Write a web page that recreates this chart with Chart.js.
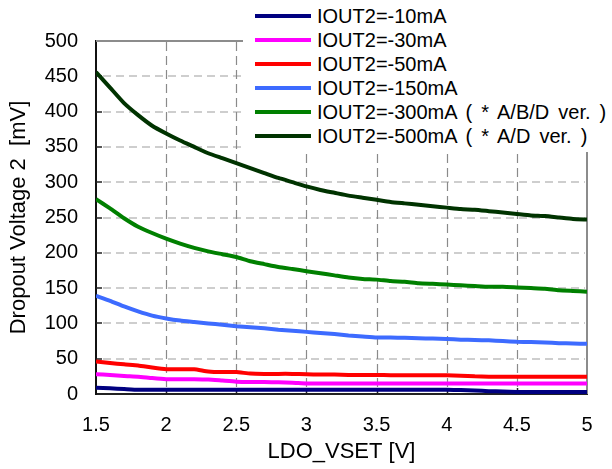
<!DOCTYPE html>
<html>
<head>
<meta charset="utf-8">
<script src="https://cdn.jsdelivr.net/npm/chart.js@4.4.1/dist/chart.umd.min.js"></script>
<style>
    html, body { margin: 0; padding: 0; background: #fff; }
    #wrap { position: relative; width: 612px; height: 469px; }
    #legend {
        position: absolute; left: 243px; top: 0; width: 369px; height: 152px;
        background: #fff; font-family: "Liberation Sans", Arial, sans-serif;
        font-size: 20px; color: #000;
    }
    .row { position: absolute; left: 0; height: 24px; line-height: 24px; white-space: pre; }
    .swatch { position: absolute; left: 12px; top: 10px; width: 56px; height: 4px; }
    .label { position: absolute; left: 74px; top: 0; word-spacing: 3.5px; }
</style>
</head>
<body>
<div id="wrap">
    <canvas id="chart"></canvas>
    <div id="legend"></div>
</div>
<script>
// LDO_VSET [V]
const vset = [1.5, 1.6, 1.7, 1.8, 1.9, 2.0, 2.1, 2.2, 2.3, 2.4, 2.5, 2.6, 2.7, 2.8, 2.9, 3.0, 3.1, 3.2,
              3.3, 3.4, 3.5, 3.6, 3.7, 3.8, 3.9, 4.0, 4.1, 4.2, 4.3, 4.4, 4.5, 4.6, 4.7, 4.8, 4.9, 5.0];

// dropout voltage [mV] per load current
const iout10 = [9, 8, 7, 6, 6, 6, 6, 6, 6, 6, 6, 6, 6, 6, 6, 6, 6, 6,
                6, 6, 6, 6, 6, 6, 6, 6, 5.5, 5, 4, 3.5, 3, 3, 3, 3, 3, 3];
const iout30 = [28, 27, 25.5, 24.5, 22.5, 21, 21, 21, 20.5, 19, 17.5, 17, 17, 16.5, 16, 15, 15, 15,
                15, 15, 15, 15, 15, 15, 15, 15, 15, 15, 15, 15, 15, 15, 15, 15, 15, 15];
const iout50 = [46, 44, 42, 40.5, 37.5, 35, 35, 35, 32, 31, 31, 29, 28.5, 28.5, 28.5, 28, 27.5, 27.5,
                27, 27, 27, 26.5, 26.5, 26.5, 26.5, 26.5, 26, 25, 24.5, 24.5, 24.5, 24.5, 24.5, 24.5, 24.5, 24.5];
const iout150 = [139, 132, 124, 117, 111, 107, 104, 102, 100, 98, 96, 94.5, 93, 91, 89.5, 88, 86.5, 85,
                 83, 81.5, 80, 80, 79.5, 79, 78.5, 78, 77, 76.5, 76, 75, 74, 73.5, 73, 72, 71.5, 71];
const iout300 = [276, 263, 249, 237, 228, 220, 213, 207, 202, 198, 194, 188, 184, 180, 177, 174, 171, 168,
                 165, 163, 162, 160, 159, 157, 156, 155, 154, 153, 152, 152, 151, 150, 149, 147, 146, 145];
const iout500 = [456, 434, 412, 395, 380, 369, 359, 350, 341, 334, 327, 320, 313, 306, 300, 294, 289, 285,
                 281, 278, 275, 272, 270, 268, 266, 264, 262, 261, 259, 257, 255, 253, 252, 250, 248, 247];

const seriesLabels = ['IOUT2=-10mA', 'IOUT2=-30mA', 'IOUT2=-50mA', 'IOUT2=-150mA',
                      'IOUT2=-300mA ( * A/B/D ver. )', 'IOUT2=-500mA ( * A/D ver. )'];
const seriesValues = [iout10, iout30, iout50, iout150, iout300, iout500];
const seriesColors = ['#000080', '#ff00ff', '#ff0000', '#3d6bff', '#008000', '#003300'];

Chart.defaults.font.family = '"Liberation Sans", Arial, sans-serif';
Chart.defaults.color = '#000';

// dashes drawn by hand so they show whatever the canvas does with setLineDash
function dashH(ctx, x0, x1, y, on, off) {
    for (let x = x0; x < x1; x += on + off) {
        ctx.moveTo(x, y);
        ctx.lineTo(Math.min(x + on, x1), y);
    }
}
function dashV(ctx, y0, y1, x, on, off) {
    for (let y = y1; y > y0; y -= on + off) {
        ctx.moveTo(x, y);
        ctx.lineTo(x, Math.max(y - on, y0));
    }
}

// dashed grid, gray top/right frame and short inside tick marks
const frame = {
    id: 'frame',
    beforeDatasetsDraw(chart) {
        const { ctx, chartArea: a, scales: { x, y } } = chart;
        ctx.save();
        ctx.lineWidth = 1.5;
        ctx.strokeStyle = '#bfbfbf';
        ctx.beginPath();
        y.ticks.forEach(t => {
            if (t.value === 0 || t.value === 500) return;
            const py = Math.round(y.getPixelForValue(t.value));
            dashH(ctx, a.left + 7, a.right - 2, py, 8, 5);
        });
        ctx.stroke();
        ctx.lineWidth = 1.2;
        ctx.strokeStyle = '#8a8a8a';
        ctx.beginPath();
        x.ticks.forEach(t => {
            if (t.value === 1.5 || t.value === 5) return;
            const px = Math.round(x.getPixelForValue(t.value)) + 0.5;
            dashV(ctx, a.top, a.bottom - 7, px, 9, 5);
        });
        ctx.stroke();

        ctx.strokeStyle = '#8c8c8c';
        ctx.lineWidth = 2;
        ctx.beginPath();
        ctx.moveTo(a.left, a.top);
        ctx.lineTo(a.right, a.top);
        ctx.lineTo(a.right, a.bottom);
        ctx.stroke();

        ctx.strokeStyle = '#222';
        ctx.lineWidth = 1.5;
        ctx.beginPath();
        y.ticks.forEach(t => {
            if (t.value === 0 || t.value === 500) return;
            const py = Math.round(y.getPixelForValue(t.value));
            ctx.moveTo(a.left, py);
            ctx.lineTo(a.left + 6, py);
        });
        x.ticks.forEach(t => {
            if (t.value === 1.5 || t.value === 5) return;
            const px = Math.round(x.getPixelForValue(t.value)) + 0.5;
            ctx.moveTo(px, a.bottom);
            ctx.lineTo(px, a.bottom - 6);
        });
        ctx.stroke();
        ctx.restore();
    }
};

const ctx = document.getElementById('chart').getContext('2d');
const chart = new Chart(ctx, {
    type: 'line',
    data: {
        datasets: seriesValues.map((vals, i) => ({
            label: seriesLabels[i],
            data: vals.map((v, j) => ({ x: vset[j], y: v })),
            borderColor: seriesColors[i],
            backgroundColor: seriesColors[i],
            borderWidth: 4,
            pointRadius: 0,
            tension: 0.15,
            fill: false
        }))
    },
    options: {
        responsive: true,
        maintainAspectRatio: false,
        animation: false,
        layout: { padding: { top: 41, right: 25, left: 0, bottom: 0 } },
        plugins: {
            legend: { display: false },
            tooltip: { enabled: false }
        },
        scales: {
            x: {
                type: 'linear',
                min: 1.5,
                max: 5,
                afterFit: s => { s.height = 75; },
                ticks: { stepSize: 0.5, padding: 19, font: { size: 20 }, color: '#000', callback: v => String(v) },
                grid: { display: false, drawTicks: false },
                border: { color: '#222', width: 2 },
                title: { display: true, text: 'LDO_VSET [V]', font: { size: 22 }, color: '#000', padding: { top: 0, bottom: 4 } }
            },
            y: {
                min: 0,
                max: 500,
                afterFit: s => { s.width = 96; },
                ticks: { stepSize: 50, padding: 18, font: { size: 20 }, color: '#000' },
                grid: { display: false, drawTicks: false },
                border: { color: '#111', width: 2 },
                title: { display: true, text: 'Dropout Voltage 2  [mV]', font: { size: 22 }, color: '#000', padding: { top: 6, bottom: 0 } }
            }
        }
    },
    plugins: [frame]
});

// legend box over the top right corner
const legendEl = document.getElementById('legend');
chart.data.datasets.forEach((ds, i) => {
    const row = document.createElement('div');
    row.className = 'row';
    row.style.top = (4 + i * 24) + 'px';
    const sw = document.createElement('span');
    sw.className = 'swatch';
    sw.style.background = ds.borderColor;
    const lb = document.createElement('span');
    lb.className = 'label';
    lb.textContent = ds.label;
    row.appendChild(sw);
    row.appendChild(lb);
    legendEl.appendChild(row);
});
</script>
</body>
</html>
